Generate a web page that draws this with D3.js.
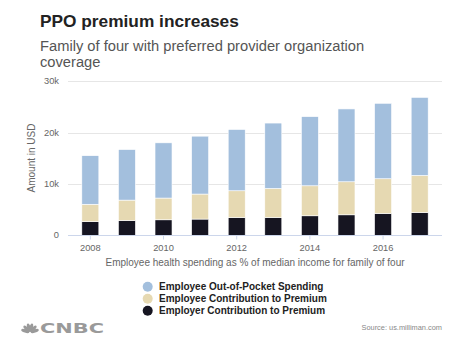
<!DOCTYPE html>
<html><head><meta charset="utf-8">
<script src="https://cdn.jsdelivr.net/npm/d3@7"></script>
<style>body{margin:0;background:#fff}svg{display:block}</style>
</head><body>
<script>
const years = [2008,2009,2010,2011,2012,2013,2014,2015,2016,2017];
const employerContribution = [2650,2880,3020,3160,3470,3470,3800,3990,4250,4440];
const employeeContribution = [3390,3970,4230,4870,5200,5650,5840,6430,6760,7210];
const outOfPocket = [9460,9840,10750,11270,11930,12730,13460,14180,14690,15200];
const yTicks = [0,10000,20000,30000];
const xTickLabels = [2008,2010,2012,2014,2016];
const seriesNames = ["Employer Contribution to Premium","Employee Contribution to Premium","Employee Out-of-Pocket Spending"];
const seriesColors = ["#161521","#e6d9b2","#a3bfdd"];

const W=474,H=345;
const svg=d3.select("body").append("svg").attr("width",W).attr("height",H);
const font="Liberation Sans, Arial, sans-serif";

svg.append("text").attr("x",40).attr("y",26.7).attr("font-family",font).attr("font-weight","bold")
  .attr("font-size",17.3).attr("fill","#222").text("PPO premium increases");
const sub=svg.append("text").attr("font-family",font).attr("font-size",14.7).attr("fill","#555");
sub.append("tspan").attr("x",40).attr("y",50.7).text("Family of four with preferred provider organization");
sub.append("tspan").attr("x",40).attr("y",67).text("coverage");

const x=d3.scaleBand().domain(years).range([68,442]).paddingInner(0.5355).paddingOuter(0.378);
const y=d3.scaleLinear().domain([0,30000]).range([235.3,81.2]);

// grid
svg.append("g").selectAll("line").data(yTicks.slice(1)).join("line")
  .attr("x1",68).attr("x2",442).attr("y1",d=>Math.round(y(d))+0.5).attr("y2",d=>Math.round(y(d))+0.5)
  .attr("stroke","#e6e6e6").attr("stroke-width",1);
svg.append("g").selectAll("text").data(yTicks).join("text")
  .attr("x",59).attr("y",d=>y(d)).attr("dy","0.33em").attr("text-anchor","end")
  .attr("font-family",font).attr("font-size",9.3).attr("fill","#666")
  .text(d=>d===0?"0":(d/1000)+"k");

svg.append("text").attr("transform","translate(34.5,158) rotate(-90)").attr("text-anchor","middle")
  .attr("font-family",font).attr("font-size",10).attr("fill","#666").text("Amount in USD");

// stacked bars
const rows=years.map((yr,i)=>({year:yr,a:employerContribution[i],b:employeeContribution[i],c:outOfPocket[i]}));
const stack=d3.stack().keys(["a","b","c"])(rows);
svg.append("g").selectAll("g").data(stack).join("g").attr("fill",(d,i)=>seriesColors[i])
  .selectAll("rect").data(d=>d).join("rect")
  .attr("x",d=>x(d.data.year)).attr("width",x.bandwidth())
  .attr("y",d=>y(d[1])).attr("height",d=>y(d[0])-y(d[1]))
  .attr("stroke","#fff").attr("stroke-width",0.6);

// x axis
const base=Math.round(y(0))+0.5;
svg.append("line").attr("x1",68).attr("x2",442).attr("y1",base).attr("y2",base).attr("stroke","#ccd6eb");
svg.append("g").selectAll("line").data(xTickLabels).join("line")
  .attr("x1",d=>x(d)+x.bandwidth()/2).attr("x2",d=>x(d)+x.bandwidth()/2)
  .attr("y1",base).attr("y2",base+4).attr("stroke","#ccd6eb");
svg.append("g").selectAll("text").data(xTickLabels).join("text")
  .attr("x",d=>x(d)+x.bandwidth()/2).attr("y",251).attr("text-anchor","middle")
  .attr("font-family",font).attr("font-size",9.3).attr("fill","#666").text(d=>d);
svg.append("text").attr("x",255).attr("y",265.7).attr("text-anchor","middle")
  .attr("font-family",font).attr("font-size",10).attr("fill","#666")
  .text("Employee health spending as % of median income for family of four");

// legend
const legendOrder=[2,1,0];
const lg=svg.append("g").selectAll("g").data(legendOrder).join("g")
  .attr("transform",(d,i)=>`translate(147.7,${286.7+i*12})`);
lg.append("circle").attr("r",5).attr("fill",d=>seriesColors[d]);
lg.append("text").attr("x",11.3).attr("dy","0.36em").attr("font-family",font).attr("font-weight","bold")
  .attr("font-size",10).attr("fill","#222").text(d=>seriesNames[d]);

// source
svg.append("text").attr("x",442).attr("y",329.5).attr("text-anchor","end").attr("font-family",font)
  .attr("font-size",7.4).attr("fill","#888").text("Source: us.milliman.com");

// CNBC logo
const logo=svg.append("g").attr("fill","#9a9a9a");
const angles=[-72,-43,-14,14,43,72];
logo.selectAll("ellipse").data(angles).join("ellipse")
  .attr("cx",0).attr("cy",-5).attr("rx",1.7).attr("ry",4.2)
  .attr("transform",d=>`translate(30,332.5) rotate(${d}) `);
logo.append("text").attr("x",40).attr("y",332.5).attr("font-family","DejaVu Sans, sans-serif")
  .attr("font-weight","bold").attr("font-size",13.5).attr("textLength",64).attr("lengthAdjust","spacingAndGlyphs")
  .text("CNBC");
</script>
</body></html>
